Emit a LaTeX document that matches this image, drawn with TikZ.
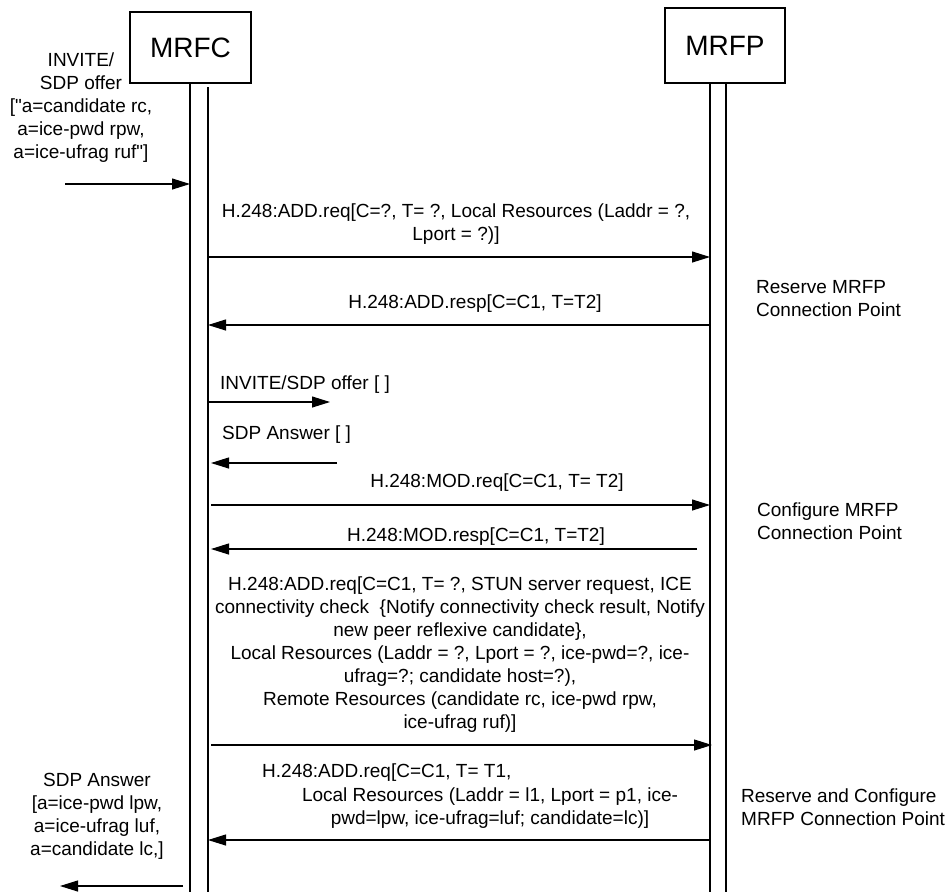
\documentclass[tikz,border=0pt]{standalone}
\usepackage{fontspec}
\setmainfont{Liberation Sans}[Ligatures=TeXOff]
\usetikzlibrary{arrows.meta}
\begin{document}
\begin{tikzpicture}[x=1pt,y=-1pt,
  lbl/.style={font=\fontsize{19}{23}\selectfont, inner sep=0pt, align=center},
  lbll/.style={lbl, align=left, anchor=west},
  msg/.style={line width=1.1pt, -{Triangle[length=18pt,width=11pt]}},
  life/.style={line width=1.1pt},
  ent/.style={draw, line width=1.1pt, font=\fontsize{28}{30}\selectfont, inner sep=0pt}]
\useasboundingbox (0,0) rectangle (948,895);
% entities
\node[ent, minimum width=121pt, minimum height=71pt] (mrfc) at (190.5,47.5) {MRFC};
\node[ent, minimum width=120pt, minimum height=75pt] (mrfp) at (725,45.5) {MRFP};
% lifelines
\coordinate (c1t) at (190,83);  \coordinate (c1b) at (190,892);
\coordinate (c2t) at (208,87);  \coordinate (c2b) at (208,892);
\coordinate (p1t) at (710,83);  \coordinate (p1b) at (710,892);
\coordinate (p2t) at (726,83);  \coordinate (p2b) at (726,892);
\draw[life] (c1t) -- (c1b);
\draw[life] (c2t) -- (c2b);
\draw[life] (p1t) -- (p1b);
\draw[life] (p2t) -- (p2b);
% message 1: incoming INVITE
\node[lbl] (l1) at (81,108) {INVITE/\\SDP offer\\{[}"a=candidate rc,\\a=ice-pwd rpw,\\a=ice-ufrag ruf"{]}};
\coordinate (m1s) at (65,184); \coordinate (m1e) at (190,184);
\draw[msg] (m1s) -- (m1e);
% message 2: ADD.req
\node[lbl] (l2) at (456,224.5) {H.248:ADD.req{[}C=?, T= ?, Local Resources (Laddr = ?,\\Lport = ?){]}};
\coordinate (m2s) at (208,257); \coordinate (m2e) at (710,257);
\draw[msg] (m2s) -- (m2e);
% message 3: ADD.resp
\node[lbl] (l3) at (475,304) {H.248:ADD.resp{[}C=C1, T=T2{]}};
\coordinate (m3s) at (710,325); \coordinate (m3e) at (208,325);
\draw[msg] (m3s) -- (m3e);
\node[lbll] (n1) at (756,298.5) {Reserve MRFP\\Connection Point};
% message 4: INVITE/SDP offer
\node[lbll] (l4) at (220,385) {INVITE/SDP offer {[} {]}};
\coordinate (m4s) at (208,402); \coordinate (m4e) at (330,402);
\draw[msg] (m4s) -- (m4e);
% message 5: SDP Answer
\node[lbll] (l5) at (222,435) {SDP Answer {[} {]}};
\coordinate (m5s) at (337,463); \coordinate (m5e) at (211,463);
\draw[msg] (m5s) -- (m5e);
% message 6: MOD.req
\node[lbl] (l6) at (497,483) {H.248:MOD.req{[}C=C1, T= T2{]}};
\coordinate (m6s) at (211,505); \coordinate (m6e) at (710,505);
\draw[msg] (m6s) -- (m6e);
% message 7: MOD.resp
\node[lbl] (l7) at (476,537) {H.248:MOD.resp{[}C=C1, T=T2{]}};
\coordinate (m7s) at (697,549); \coordinate (m7e) at (211,549);
\draw[msg] (m7s) -- (m7e);
\node[lbll] (n2) at (757,521.5) {Configure MRFP\\Connection Point};
% message 8: big ADD.req
\node[lbl] (l8) at (460,655) {H.248:ADD.req{[}C=C1, T= ?, STUN server request, ICE\\connectivity check \ \{Notify connectivity check result, Notify\\new peer reflexive candidate\},\\Local Resources (Laddr = ?, Lport = ?, ice-pwd=?, ice-\\ufrag=?; candidate host=?),\\Remote Resources (candidate rc, ice-pwd rpw,\\ice-ufrag ruf){]}};
\coordinate (m8s) at (211,745); \coordinate (m8e) at (712,745);
\draw[msg] (m8s) -- (m8e);
% message 9: ADD.req with T1
\node[lbll] (l9a) at (262,773) {H.248:ADD.req{[}C=C1, T= T1,};
\node[lbl] (l9b) at (490,808.5) {Local Resources (Laddr = l1, Lport = p1, ice-\\pwd=lpw, ice-ufrag=luf; candidate=lc){]}};
\coordinate (m9s) at (710,840); \coordinate (m9e) at (208,840);
\draw[msg] (m9s) -- (m9e);
\node[lbll] (n3) at (741,807.5) {Reserve and Configure\\MRFP Connection Point};
% message 10: outgoing SDP Answer
\node[lbl] (l10) at (97,816) {SDP Answer\\{[}a=ice-pwd lpw,\\a=ice-ufrag luf,\\a=candidate lc,{]}};
\coordinate (m10s) at (183,886); \coordinate (m10e) at (60,886);
\draw[msg] (m10s) -- (m10e);
\end{tikzpicture}
\end{document}
